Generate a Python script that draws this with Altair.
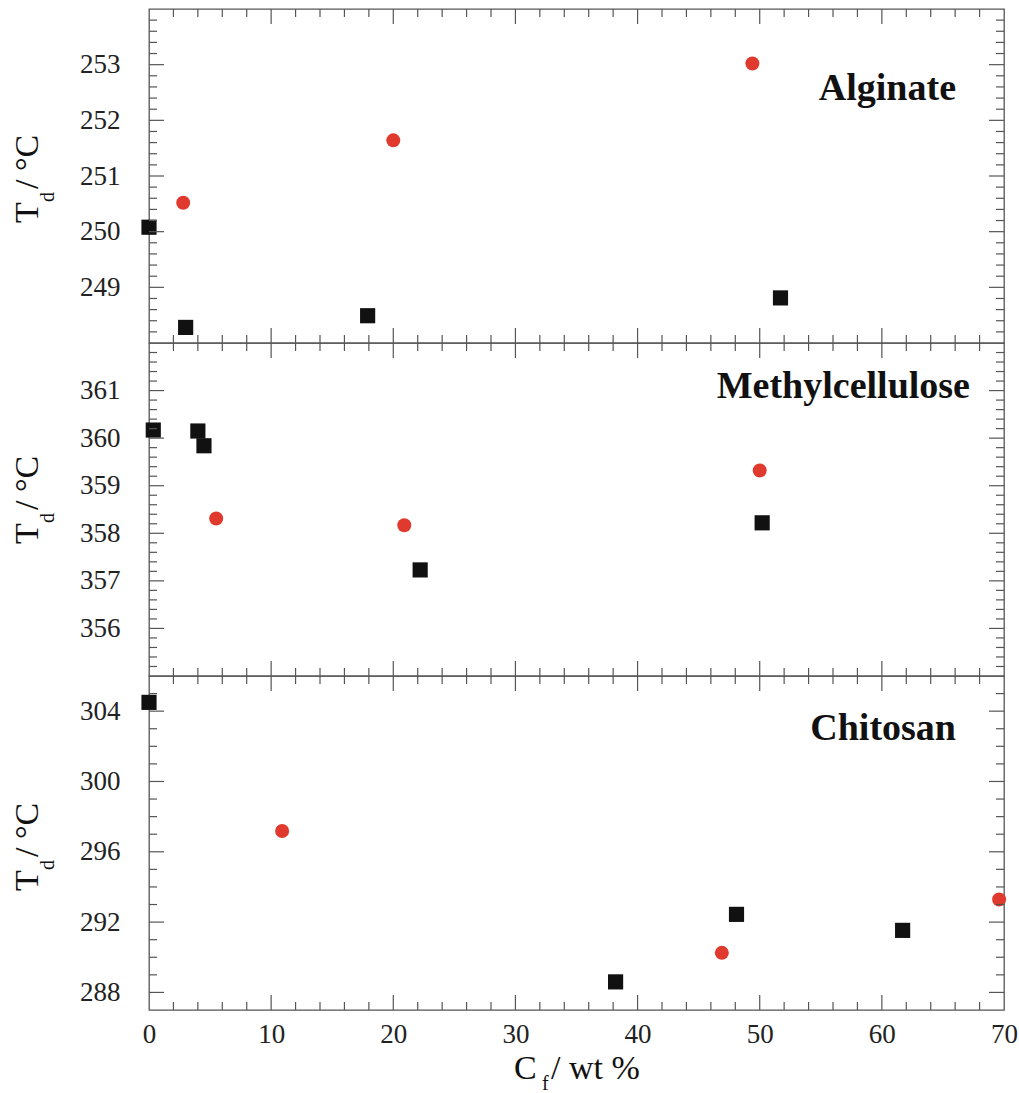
import altair as alt
import pandas as pd

# ---------------- data ----------------
panel_names = ["Alginate", "Methylcellulose", "Chitosan"]

alg_sq_x = [0.0, 3.0, 17.9, 51.7]
alg_sq_y = [250.08, 248.28, 248.49, 248.81]
alg_ci_x = [2.8, 20.0, 49.4]
alg_ci_y = [250.52, 251.64, 253.02]

mc_sq_x = [0.35, 4.0, 4.5, 22.2, 50.2]
mc_sq_y = [360.17, 360.15, 359.84, 357.23, 358.22]
mc_ci_x = [5.5, 20.9, 50.0]
mc_ci_y = [358.31, 358.17, 359.32]

ch_sq_x = [0.0, 38.2, 48.1, 61.7]
ch_sq_y = [304.5, 288.6, 292.44, 291.53]
ch_ci_x = [10.9, 46.9, 69.6]
ch_ci_y = [297.18, 290.25, 293.29]

x_domain = [0, 70]
x_major = [0, 10, 20, 30, 40, 50, 60, 70]
x_minor = [2, 4, 6, 8, 12, 14, 16, 18, 22, 24, 26, 28, 32, 34, 36, 38,
           42, 44, 46, 48, 52, 54, 56, 58, 62, 64, 66, 68]

alg_domain = [248, 254]
alg_major = [249, 250, 251, 252, 253]
mc_domain = [355, 362]
mc_major = [356, 357, 358, 359, 360, 361]
ch_domain = [287, 306]
ch_major = [288, 292, 296, 300, 304]
ch_minor = [289, 290, 291, 293, 294, 295, 297, 298, 299, 301, 302, 303, 305]


def fifths(lo, hi):
    # minor tick positions every 0.2 between integer bounds (tick positions, not data)
    out = []
    for k in range(lo, hi):
        for j in range(1, 5):
            out.append(round(k + 0.2 * j, 1))
    return out


alg_minor = fifths(248, 254)
mc_minor = fifths(355, 362)

# ---------------- style ----------------
W = 855
AX = "#555555"
RED = "#e0392e"
BLK = "#111111"
SERIF = "Liberation Serif"
MAJ, MIN = 15, 8


def text_layer(s, x, y, size, weight="normal", angle=0, align="left"):
    return alt.Chart(pd.DataFrame({"t": [s]})).mark_text(
        font=SERIF, fontSize=size, fontWeight=weight, angle=angle,
        align=align, baseline="alphabetic", color="#111111"
    ).encode(text="t:N", x=alt.value(x), y=alt.value(y))


def panel(name, sx, sy, cx, cy, ydom, ymaj, ymin, H, name_xy, title_bottom, bottom_axis, anchor):
    xs = alt.Scale(domain=x_domain, nice=False, zero=False)
    ys = alt.Scale(domain=ydom, nice=False, zero=False)
    if bottom_axis:
        xax = alt.Axis(values=x_major, ticks=False, tickSize=0, domain=False, grid=False,
                       labelPadding=11, labelFlush=False, labelFont=SERIF, labelFontSize=27,
                       labelColor="#222222", title=None, format="d")
    else:
        xax = None
    yax = alt.Axis(values=ymaj, ticks=False, tickSize=0, domain=False, grid=False,
                   labelPadding=29, labelFont=SERIF, labelFontSize=27,
                   labelColor="#222222", title=None, format="d")

    sq = alt.Chart(pd.DataFrame({"x": sx, "y": sy})).mark_point(
        shape="square", filled=True, opacity=1, size=230, color=BLK, strokeWidth=0
    ).encode(x=alt.X("x:Q", scale=xs, axis=xax), y=alt.Y("y:Q", scale=ys, axis=yax))
    ci = alt.Chart(pd.DataFrame({"x": cx, "y": cy})).mark_point(
        shape="circle", filled=True, opacity=1, size=196, color=RED, strokeWidth=0
    ).encode(x=alt.X("x:Q", scale=xs, axis=xax), y=alt.Y("y:Q", scale=ys, axis=yax))

    layers = []
    for vals, ln in ((ymaj, MAJ), (ymin, MIN)):
        df = pd.DataFrame({"v": vals})
        layers.append(alt.Chart(df).mark_rule(color=AX, strokeWidth=1.2).encode(
            y=alt.Y("v:Q", scale=ys, axis=yax), x=alt.value(0), x2=alt.value(ln)))
        layers.append(alt.Chart(df).mark_rule(color=AX, strokeWidth=1.2).encode(
            y=alt.Y("v:Q", scale=ys, axis=yax), x=alt.value(W), x2=alt.value(W - ln)))
    inner_x_major = [v for v in x_major if x_domain[0] < v < x_domain[1]]
    for vals, ln in ((inner_x_major, MAJ), (x_minor, MIN)):
        df = pd.DataFrame({"v": vals})
        layers.append(alt.Chart(df).mark_rule(color=AX, strokeWidth=1.2).encode(
            x=alt.X("v:Q", scale=xs, axis=xax), y=alt.value(0), y2=alt.value(ln)))
        layers.append(alt.Chart(df).mark_rule(color=AX, strokeWidth=1.2).encode(
            x=alt.X("v:Q", scale=xs, axis=xax), y=alt.value(H), y2=alt.value(H - ln)))

    # panel label
    layers.append(text_layer(name, name_xy[0], name_xy[1], 38, weight="bold", align="right"))
    # y title  T_d / °C  (rotated)
    layers.append(text_layer("T", -111, title_bottom, 34, angle=270))
    layers.append(text_layer("d", -95, title_bottom - 21, 20, angle=270))
    layers.append(text_layer("/ °C", -111, title_bottom - 34, 34, angle=270))

    if bottom_axis:
        layers.append(text_layer("C", 365, H + 69, 34))
        layers.append(text_layer("f", 393, H + 80, 20))
        layers.append(text_layer("/ wt %", 402, H + 69, 34))

    if anchor:
        layers.append(alt.Chart(pd.DataFrame({"a": [0]})).mark_rule(
            strokeWidth=1, opacity=0, color="white"
        ).encode(x=alt.value(-147.5), x2=alt.value(-146), y=alt.value(-7.5), y2=alt.value(-6)))

    return alt.layer(sq, ci, *layers).properties(width=W, height=H)


p1 = panel(panel_names[0], alg_sq_x, alg_sq_y, alg_ci_x, alg_ci_y, alg_domain, alg_major,
           alg_minor, 334, (807, 91), 214, False, True)
p2 = panel(panel_names[1], mc_sq_x, mc_sq_y, mc_ci_x, mc_ci_y, mc_domain, mc_major,
           mc_minor, 333, (821, 55), 201, False, False)
p3 = panel(panel_names[2], ch_sq_x, ch_sq_y, ch_ci_x, ch_ci_y, ch_domain, ch_major,
           ch_minor, 334, (807, 64), 215, True, False)

chart = alt.vconcat(p1, p2, p3, spacing=0, bounds="flush").properties(
    padding=0, background="white"
).configure_view(stroke=AX, strokeWidth=1.3)

chart.save("out.html", embed_options={"renderer": "svg", "actions": False})
